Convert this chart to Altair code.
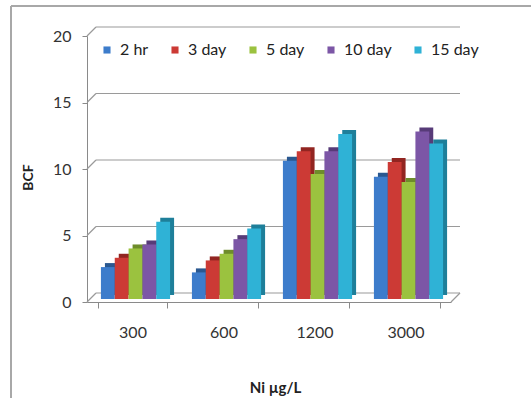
import altair as alt
import pandas as pd

concentrations = ["300", "600", "1200", "3000"]
durations = ["2 hr", "3 day", "5 day", "10 day", "15 day"]
bcf_2hr = [2.4, 2.0, 10.4, 9.2]
bcf_3day = [3.1, 2.9, 11.1, 10.3]
bcf_5day = [3.8, 3.4, 9.4, 8.8]
bcf_10day = [4.1, 4.5, 11.1, 12.6]
bcf_15day = [5.8, 5.3, 12.4, 11.7]
y_ticks = [0, 5, 10, 15, 20]

front_colors = ["#3D7CCB", "#CC3A35", "#9BC23F", "#7C56A6", "#2FB2D6"]
side_colors = ["#2A5890", "#922521", "#6E8C2B", "#573B78", "#1E7F9A"]

series = [bcf_2hr, bcf_3day, bcf_5day, bcf_10day, bcf_15day]
rows = []
for d, vals in zip(durations, series):
    for c, v in zip(concentrations, vals):
        rows.append({"conc": c, "dur": d, "bcf": v})
df = pd.DataFrame(rows)
ticks_df = pd.DataFrame({"v": y_ticks})
floor_df = pd.DataFrame({"v": [0]})

W, H = 364, 266
FONT = "Lato"
P_IN, P_OUT = 0.24, 0.12
step = W / (len(concentrations) - P_IN + 2 * P_OUT)
bw = step * (1 - P_IN)

yscale = alt.Scale(domain=[0, 20], nice=False, zero=True)
xscale = alt.Scale(paddingInner=P_IN, paddingOuter=P_OUT)

y_axis = alt.Axis(title="BCF", values=y_ticks, grid=False,
                  domainColor="#8a8a8a", tickColor="#8a8a8a", tickSize=5,
                  labelPadding=11, labelFontSize=16, labelFont=FONT,
                  labelColor="#333333", titleFont=FONT, titleFontSize=14,
                  titleFontWeight="bold", titleColor="#222222",
                  titleX=-59, titleY=141, titleAngle=270,
                  titleAlign="center", titleBaseline="middle")
x_axis = alt.Axis(title="Ni µg/L", labelAngle=0, tickBand="extent",
                  domainColor="#8a8a8a", tickColor="#8a8a8a", tickSize=6,
                  labelPadding=16, labelFontSize=16, labelFont=FONT,
                  labelColor="#333333", titleFont=FONT, titleFontSize=15,
                  titleFontWeight="bold", titleColor="#222222", titlePadding=40,
                  titleX=188)

border_left = alt.Chart(floor_df).mark_rule(color="#a8a8a8", strokeWidth=2).encode(
    x=alt.value(-76), y=alt.value(-30), y2=alt.value(H + 96)
)
border_top = alt.Chart(floor_df).mark_rule(color="#a8a8a8", strokeWidth=2).encode(
    x=alt.value(-76), x2=alt.value(W + 80), y=alt.value(-30)
)

grid = alt.Chart(ticks_df).mark_rule(color="#9a9a9a", strokeWidth=1.2, yOffset=-9).encode(
    y=alt.Y("v:Q", scale=yscale, axis=y_axis),
    x=alt.value(9), x2=alt.value(W + 9),
)
diag = alt.Chart(ticks_df).mark_rule(color="#9a9a9a", strokeWidth=1.2, y2Offset=-9).encode(
    y=alt.Y("v:Q", scale=yscale, axis=y_axis),
    y2="v:Q",
    x=alt.value(0), x2=alt.value(9),
)
floor_edge = alt.Chart(floor_df).mark_rule(color="#9a9a9a", strokeWidth=1.2, y2Offset=-9).encode(
    y=alt.Y("v:Q", scale=yscale, axis=y_axis),
    y2="v:Q",
    x=alt.value(W), x2=alt.value(W + 9),
)

back = alt.Chart(df).mark_bar(yOffset=-7, y2Offset=-7).encode(
    x=alt.X("conc:N", sort=concentrations, scale=xscale, axis=x_axis),
    xOffset=alt.XOffset("dur:N", sort=durations, scale=alt.Scale(range=[7, bw + 7])),
    y=alt.Y("bcf:Q", scale=yscale, axis=y_axis),
    color=alt.Color("dur:N", sort=durations,
                    scale=alt.Scale(domain=durations, range=side_colors), legend=None),
)

front = alt.Chart(df).mark_bar(yOffset=-3, y2Offset=-3).encode(
    x=alt.X("conc:N", sort=concentrations, scale=xscale, axis=x_axis),
    xOffset=alt.XOffset("dur:N", sort=durations, scale=alt.Scale(range=[3, bw + 3])),
    y=alt.Y("bcf:Q", scale=yscale, axis=y_axis),
    color=alt.Color("dur:N", sort=durations,
                    scale=alt.Scale(domain=durations, range=front_colors),
                    legend=alt.Legend(title=None, orient="none", direction="horizontal",
                                      legendX=12, legendY=6, symbolType="square",
                                      symbolSize=50, symbolStrokeWidth=0,
                                      labelFont=FONT, labelFontSize=16,
                                      labelColor="#222222", labelOffset=5,
                                      columnPadding=18, padding=0)),
)

chart = alt.layer(
    border_left, border_top, grid, diag, floor_edge, back, front
).resolve_scale(color="independent", xOffset="independent").properties(
    width=W, height=H,
    padding={"left": 87, "top": 36, "right": 80, "bottom": 96},
    autosize=alt.AutoSizeParams(type="none"),
    background="white",
).configure_view(stroke=None)

chart.save("out.html", embed_options={"renderer": "svg", "actions": False})
